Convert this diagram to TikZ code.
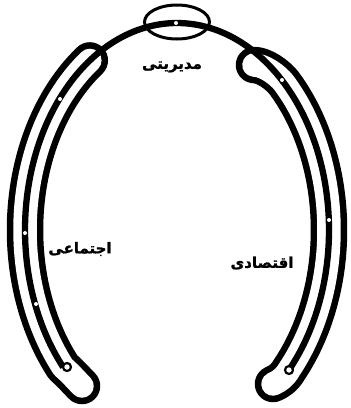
\documentclass[tikz,border=0pt]{standalone}
\usepackage{fontspec}
\newfontfamily\arabicfont[Script=Arabic,BoldFeatures={FakeBold=1.2}]{DejaVu Sans}
\TeXXeTstate=1
\begin{document}
\begin{tikzpicture}[x=1pt,y=-1pt,
  legout/.style={line width=36.5pt,line cap=round,line join=round},
  legin/.style={white,line width=23.5pt,line cap=round,line join=round},
  mainarc/.style={line width=6.3pt},
  hole/.style={circle,fill=white,inner sep=0pt,minimum size=4pt},
  endring/.style={circle,draw=black,fill=white,line width=2.2pt,inner sep=0pt,minimum size=8pt},
  label/.style={font=\arabicfont\bfseries\fontsize{15}{17}\selectfont,inner sep=0pt}]
\useasboundingbox (0,0) rectangle (351,408);
\def\cx{177}\def\cy{230}\def\rx{152}\def\ry{207}
\def\leftleg{plot[domain=235:138.5,samples=80] ({\cx+\rx*cos(\x)},{\cy+\ry*sin(\x)}) .. controls (72,375) and (76,380) .. (82,386)}
\def\rightleg{(254,65) .. controls (264,65) and (278,75) .. (284.5,83.6) -- plot[domain=-45:42.5,samples=80] ({\cx+\rx*cos(\x)},{\cy+\ry*sin(\x)}) .. controls (285,377) and (280,381) .. (273,384)}
% left leg
\draw[legout] \leftleg;
\draw[legin] \leftleg;
% right leg
\draw[legout] \rightleg;
\draw[legin] \rightleg;
% main arc
\draw[mainarc] plot[domain=138.5:402.5,samples=200] ({\cx+\rx*cos(\x)},{\cy+\ry*sin(\x)});
% top ellipse
\draw[line width=3pt] (177,22) ellipse[x radius=32.5,y radius=17];
% holes
\node[hole] (h0) at (176,23) {};
\node[hole] (l1) at (60,99) {};
\node[hole] (l2) at (25,233) {};
\node[hole] (l3) at (36,304) {};
\node[endring] (l4) at (67,367) {};
\node[hole] (r1) at (282,80) {};
\node[hole] (r2) at (329,220) {};
\node[endring] (r3) at (289,370) {};
% labels
\node[label] (top) at (172,67) {\beginR مدیریتی\endR};
\node[label] (left) at (80,249) {\beginR اجتماعی\endR};
\node[label] (right) at (262,263) {\beginR اقتصادی\endR};
\end{tikzpicture}
\end{document}
